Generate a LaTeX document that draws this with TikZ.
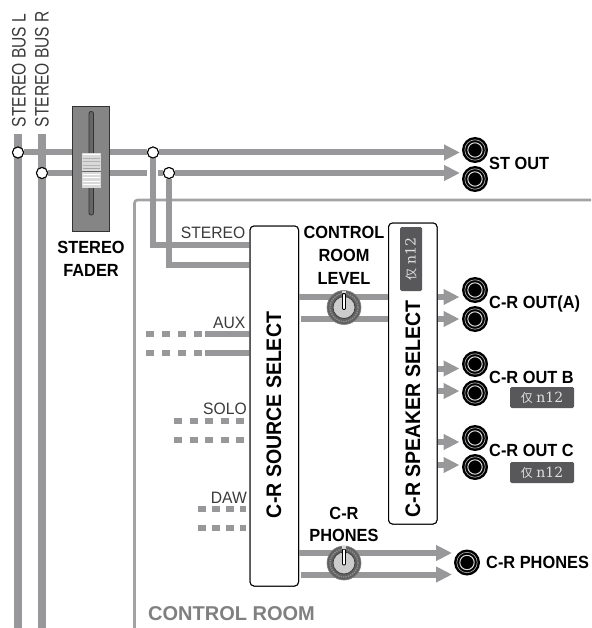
\documentclass[tikz,border=0pt]{standalone}
\usepackage{fontspec}
\setmainfont{Liberation Sans}
\newfontfamily\cjkf{Noto Sans CJK SC}
\newfontfamily\serf{DejaVu Serif}
\usetikzlibrary{arrows.meta,calc}
\definecolor{busc}{HTML}{98989B}
\definecolor{crc}{HTML}{A3A3A6}
\definecolor{badgec}{HTML}{58585A}
\definecolor{txtc}{HTML}{3A3A3A}
\tikzset{
  rail/.style={draw=busc,line width=8pt},
  bus/.style={draw=busc,line width=6pt},
  tipped/.style={bus,-{Triangle[length=16pt,width=15pt]}},
  feed/.style={draw=busc,line width=6pt,line cap=butt},
  dot/.style={circle,draw=black,fill=white,line width=1pt,minimum size=11pt,inner sep=0pt},
  boldlab/.style={font=\fontsize{17.6}{17.6}\selectfont\bfseries,text=black,inner sep=0pt},
  thinlab/.style={font=\fontsize{16.5}{16.5}\selectfont,text=txtc,inner sep=0pt},
  buslab/.style={font=\fontsize{19.5}{19.5}\selectfont,text=txtc,inner sep=0pt,rotate=90,anchor=west},
  selbox/.style={draw=black,fill=white,line width=1pt,rounded corners=4pt,inner sep=0pt},
  badge/.style={fill=badgec,rounded corners=1.5pt,text=white!88!black,inner sep=0pt,minimum width=64pt,minimum height=21pt},
  outerjack/.style={circle,fill=black,minimum size=26pt,inner sep=0pt},
  stub/.style={draw=busc,line width=6pt,dash pattern=on 8pt off 8pt},
  stubb/.style={draw=busc,line width=6pt,dash pattern=on 8pt off 7.5pt},
  stubc/.style={draw=busc,line width=6pt,dash pattern=on 8pt off 6pt},
}
\newcommand{\nar}[1]{\scalebox{.93}[1]{#1}}
\newcommand{\narb}[1]{\scalebox{.8}[1]{#1}}
\newcommand{\nart}[1]{\scalebox{.95}[1]{#1}}
\newcommand{\jacknode}[3]{%
  \node[outerjack] (#1) at (#2,#3) {};
  \draw[draw=white!65!black,line width=.7pt] (#1.center) circle (10.2pt);
  \draw[draw=white!85!black,line width=1pt] (#1.center) circle (7.2pt);
}
\newcommand{\knobnode}[3]{%
  \node[circle,fill=black!62,draw=black!50,line width=.6pt,minimum size=34pt,inner sep=0pt] (#1) at (#2,#3) {};
  \draw[densely dotted,black!45,line width=1.4pt] (#1.center) circle (14pt);
  \draw[black!75,line width=.8pt,fill=black!20] (#1.center) circle (11pt);
  \draw[black,line width=.8pt,fill=white,rounded corners=1pt] ($(#1.center)+(-1.5,2)$) rectangle ($(#1.center)+(1.5,-14)$);
  \fill[white!85!black] ($(#1.center)+(-1.6,-17)$) rectangle ($(#1.center)+(1.6,-14.5)$);
}
\newcommand{\onlytext}{{\cjkf\fontsize{12}{12}\selectfont 仅}\hspace{3.5pt}{\serf\fontsize{14}{14}\selectfont n12}}
\begin{document}
\begin{tikzpicture}[x=1pt,y=-1pt]
\useasboundingbox (0,0) rectangle (591,628);
% control room frame
\coordinate (crb) at (134.5,628);
\coordinate (crt) at (134.5,200);
\coordinate (crr) at (591,200);
\draw[crc,line width=2.6pt,rounded corners=3pt] (crb) -- (crt) -- (crr);
% buses
\coordinate (ltop) at (18,134);
\coordinate (lbot) at (18,628);
\coordinate (rtop) at (42,134);
\coordinate (rbot) at (42,628);
\draw[rail] (ltop) -- (lbot);
\draw[rail] (rtop) -- (rbot);
\node[dot] (nl) at (18,152.5) {};
\node[dot] (nr) at (42,173) {};
\node[dot] (nsl) at (153,152.5) {};
\node[dot] (nsr) at (169,173) {};
% tips
\coordinate (t1) at (460,152.5);
\coordinate (t2) at (460,173);
\coordinate (gapa) at (147,173);
\coordinate (gapb) at (158,173);
% stereo feeds
\coordinate (cl) at (153,245);
\coordinate (cr) at (169,264.5);
\node[selbox,minimum width=48.5pt,minimum height=360pt] (src) at (274.3,406) {};
\node[selbox,minimum width=48.5pt,minimum height=301pt] (spk) at (412.8,373.5) {};
\draw[bus] (nl) -- (nsl);
\draw[bus] (nr) -- (gapa);
\draw[tipped] (nsl) -- (t1);
\draw[bus] (gapb) -- (nsr);
\draw[tipped] (nsr) -- (t2);
\draw[feed] (nsl) -- (cl) -- (cl-|src.west);
\draw[feed] (nsr) -- (cr) -- (cr-|src.west);
\node[dot] at (nl) {};
\node[dot] at (nr) {};
\node[dot] at (nsl) {};
\node[dot] at (nsr) {};
% fader
\node[draw=black!80,fill=black!48,line width=1pt,minimum width=37pt,minimum height=124pt,inner sep=0pt] (fad) at (91.3,169) {};
\draw[black!80,fill=black!60,line width=.8pt,rounded corners=2pt] (89,111.5) rectangle (93.5,215);
\fill[black!15] (82,153) rectangle (100.5,188.5);
\foreach \yy/\cc in {154.5/white,158.5/black!30,162/black!30,165.5/black!30,168.5/black!35,174.5/white,178/white,181.5/white,185/white}{
  \draw[\cc,line width=1pt] (82.5,\yy) -- (100,\yy);
}
\draw[black!60,line width=1pt] (82,171.5) -- (100.5,171.5);
% AUX / SOLO / DAW stubs
\coordinate (a1) at (205,333.5);
\coordinate (a2) at (205,353);
\coordinate (a1s) at (146,333.5);
\coordinate (a2s) at (146,353);
\draw[feed] (a1) -- (a1-|src.west);
\draw[feed] (a2) -- (a2-|src.west);
\draw[stub] (a1s) -- (a1);
\draw[stub] (a2s) -- (a2);
\coordinate (s1) at (174,421);
\coordinate (s2) at (174,440);
\coordinate (s1e) at (244,421);
\coordinate (s2e) at (244,440);
\draw[stubb] (s1) -- (s1e);
\draw[stubb] (s2) -- (s2e);
\coordinate (d1) at (198,509);
\coordinate (d2) at (198,528);
\coordinate (d1e) at (246,509);
\coordinate (d2e) at (246,528);
\draw[stubc] (d1) -- (d1e);
\draw[stubc] (d2) -- (d2e);
% select boxes redrawn on top of the feeds
\node[selbox,minimum width=48.5pt,minimum height=360pt] at (src) {};
\node[selbox,minimum width=48.5pt,minimum height=301pt] at (spk) {};
\node[boldlab,font=\fontsize{21}{21}\selectfont\bfseries,rotate=90] at (274,415) {\scalebox{.93}[1]{C-R SOURCE SELECT}};
\node[boldlab,font=\fontsize{21}{21}\selectfont\bfseries,rotate=90] at (413,409) {\scalebox{.93}[1]{C-R SPEAKER SELECT}};
\node[badge,rotate=90,minimum width=64pt,minimum height=22pt] (bdg0) at (411,259) {\onlytext};
% level lines
\coordinate (l1) at (spk.west|-0,297);
\coordinate (l2) at (spk.west|-0,318.5);
\coordinate (l2s) at (301,318.5);
\draw[bus] (src.east|-l1) -- (l1);
\draw[bus] (l2s) -- (l2);
\knobnode{lvl}{344}{307.5}
% jacks
\jacknode{j1}{475}{150}
\jacknode{j2}{475}{179}
\jacknode{j3}{475}{290}
\jacknode{j4}{475}{319}
\jacknode{j5}{475}{364}
\jacknode{j6}{475}{393}
\jacknode{j7}{475}{438}
\jacknode{j8}{475}{467}
\jacknode{j9}{467}{562.5}
% speaker arrows
\foreach \nn/\yy in {3/297,4/319,5/368.5,6/391,7/442,8/465}{
  \coordinate (u\nn) at (459.5,\yy);
  \draw[tipped] (spk.east|-u\nn) -- (u\nn);
}
% phones
\coordinate (p1) at (452,553);
\coordinate (p2) at (452,574.5);
\coordinate (p2s) at (301,574.5);
\draw[tipped] (src.east|-p1) -- (p1);
\draw[tipped] (p2s) -- (p2);
\knobnode{phn}{344}{563}
% labels
\node[buslab] (lbl) at (18.8,127.5) {\narb{STEREO BUS L}};
\node[buslab] (lbr) at (42,127.5) {\narb{STEREO BUS R}};
\node[boldlab] (fl1) at (91,247) {\nar{STEREO}};
\node[boldlab] (fl2) at (91,270.5) {\nar{FADER}};
\node[thinlab,anchor=east] (ls) at (245.5,232.5) {\nart{STEREO}};
\node[thinlab,anchor=east] (la) at (245.5,323) {\nart{AUX}};
\node[thinlab,anchor=east] (lo) at (247,409) {\nart{SOLO}};
\node[thinlab,anchor=east] (ld) at (247,498) {\nart{DAW}};
\node[boldlab] (c1) at (344,232) {\nar{CONTROL}};
\node[boldlab] (c2) at (344,255) {\nar{ROOM}};
\node[boldlab] (c3) at (344,278) {\nar{LEVEL}};
\node[boldlab] (c4) at (344,513.5) {\nar{C-R}};
\node[boldlab] (c5) at (344,535.5) {\nar{PHONES}};
\node[boldlab,anchor=west] (o1) at (489,163.5) {\nar{ST OUT}};
\node[boldlab,anchor=west] (o2) at (489,304) {\nar{C-R OUT(A)}};
\node[boldlab,anchor=west] (o3) at (489,377.5) {\nar{C-R OUT B}};
\node[boldlab,anchor=west] (o4) at (489,450.5) {\nar{C-R OUT C}};
\node[boldlab,anchor=west] (o5) at (486,562.5) {\nar{C-R PHONES}};
\node[badge] (bdg1) at (542,397.5) {\onlytext};
\node[badge] (bdg2) at (542,472.5) {\onlytext};
\node[font=\fontsize{20}{20}\selectfont\bfseries,text=black!50,anchor=west,inner sep=0pt] (crl) at (148,614) {CONTROL ROOM};
\end{tikzpicture}
\end{document}
